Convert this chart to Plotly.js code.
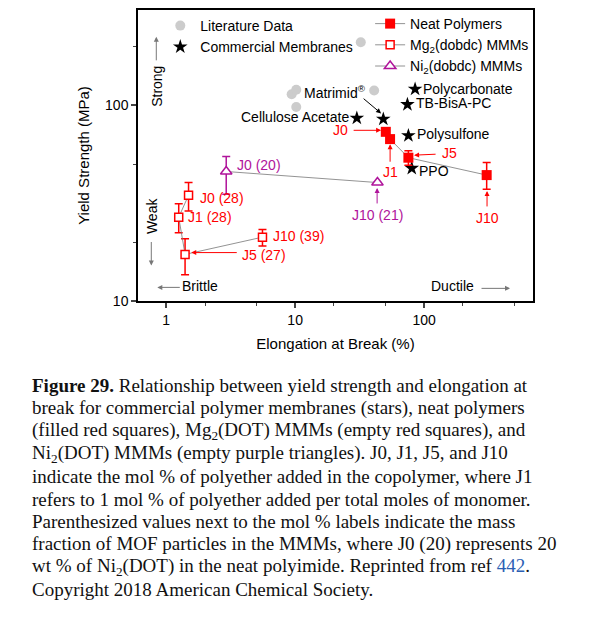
<!DOCTYPE html>
<html>
<head>
<meta charset="utf-8">
<script src="https://cdn.plot.ly/plotly-3.0.1.min.js"></script>
<style>body{margin:0;background:#fff}#chart{width:614px;height:626px}</style>
</head>
<body>
<div id="chart"></div>
<script>
// values
var litX = [9.4, 10.2, 10.2, 41, 32.3];
var litY = [114, 120, 98, 119, 210];

var comNames = ['Cellulose Acetate', 'Matrimid', 'Polycarbonate', 'TB-BisA-PC', 'Polysulfone', 'PPO'];
var comX = [30.1, 48.3, 85.2, 74.3, 75.6, 80.3];
var comY = [86, 85, 121, 101, 70, 47.7];

var neatLabels = ['J0', 'J1', 'J5', 'J10'];
var neatX = [50.5, 54.5, 75.6, 306];
var neatY = [73.2, 67.2, 54, 44];
var neatErrUp = [0, 0, 4.6, 7];
var neatErrDn = [0, 0, 4.6, 6.8];

var mgLabels = ['J0 (28)', 'J1 (28)', 'J5 (27)', 'J10 (39)'];
var mgX = [1.49, 1.25, 1.40, 5.58];
var mgY = [34.7, 26.8, 17.3, 21.2];
var mgErrUp = [5.6, 4.6, 3.5, 2.0];
var mgErrDn = [5.9, 4.5, 3.7, 2.1];

var niLabels = ['J0 (20)', 'J10 (21)'];
var niX = [2.92, 43.5];
var niY = [45.9, 40.3];
var niErrUp = [8.8, 0];
var niErrDn = [10.8, 0];

var RED = '#ff0000', PUR = '#b0149b', GRY = '#777777';

// pixel -> paper helpers (plot area 137.7..533 x 8..300.7)
function X(px) { return (px - 137.7) / 395.3; }
function Y(py) { return 1 - (py - 8) / 292.7; }

var data = [
  {x: litX, y: litY, mode: 'markers', name: 'Literature Data', legend: 'legend',
   marker: {color: '#cccccc', size: 10, symbol: 'circle'}},
  {x: comX, y: comY, mode: 'markers', name: 'Commercial Membranes', legend: 'legend',
   marker: {color: '#000', size: 11, symbol: 'star'}},
  {x: neatX, y: neatY, mode: 'lines+markers', name: 'Neat Polymers', legend: 'legend2',
   line: {color: GRY, width: 0.8}, marker: {color: RED, size: 10, symbol: 'square'},
   error_y: {type: 'data', symmetric: false, array: neatErrUp, arrayminus: neatErrDn, color: RED, thickness: 1.5, width: 4}},
  {x: mgX, y: mgY, mode: 'lines+markers', name: 'Mg<sub>2</sub>(dobdc) MMMs', legend: 'legend2',
   line: {color: GRY, width: 0.8}, marker: {color: '#fff', size: 8, symbol: 'square', line: {color: RED, width: 1.5}},
   error_y: {type: 'data', symmetric: false, array: mgErrUp, arrayminus: mgErrDn, color: RED, thickness: 1.5, width: 4}},
  {x: niX, y: niY, mode: 'lines+markers', name: 'Ni<sub>2</sub>(dobdc) MMMs', legend: 'legend2',
   line: {color: GRY, width: 0.8}, marker: {color: '#fff', size: 10, symbol: 'triangle-up', line: {color: PUR, width: 1.5}},
   error_y: {type: 'data', symmetric: false, array: niErrUp, arrayminus: niErrDn, color: PUR, thickness: 1.5, width: 4}}
];

var ann = [];
function txt(px, py, t, color, xa, extra) {
  var a = {xref: 'paper', yref: 'paper', x: X(px), y: Y(py), text: t, showarrow: false,
    xanchor: xa || 'left', yanchor: 'middle', font: {size: 14, color: color || '#000'}};
  for (var k in extra) a[k] = extra[k];
  ann.push(a);
}
function arrow(x0, y0, x1, y1, color) {
  ann.push({xref: 'paper', yref: 'paper', x: X(x1), y: Y(y1), ax: x0 - x1, ay: y0 - y1, text: '',
    showarrow: true, arrowhead: 2, arrowsize: 1, arrowwidth: 1, arrowcolor: color || '#000'});
}

// neat polymer labels
txt(350, 129, neatLabels[0], RED, 'right'); arrow(352, 129, 381, 129, RED);
txt(390, 171, neatLabels[1], RED, 'center'); arrow(390, 162, 390, 143, RED);
txt(440, 152, neatLabels[2], RED, 'left'); arrow(437, 153, 414, 154, RED);
txt(487, 217, neatLabels[3], RED, 'center'); arrow(487, 207, 487, 190, RED);
// Mg labels
txt(198, 197, mgLabels[0], RED);
txt(186, 216, mgLabels[1], RED);
txt(240, 254, mgLabels[2], RED); arrow(238, 252, 191, 252, RED);
txt(271, 235, mgLabels[3], RED);
// Ni labels
txt(235, 164, niLabels[0], PUR);
txt(377, 214, niLabels[1], PUR, 'center'); arrow(377, 204, 377, 187, PUR);
// commercial labels
txt(351, 116, comNames[0], '#000', 'right');
txt(335, 90, comNames[1] + '<sup>®</sup>', '#000', 'center'); arrow(362, 96, 381, 112, '#000');
txt(421, 87, comNames[2]);
txt(414, 102, comNames[3]);
txt(415, 133, comNames[4]);
txt(417, 170, comNames[5]);
// region labels
txt(200, 286, 'Brittle', '#000', 'center'); arrow(181, 287, 157, 287, GRY);
txt(452, 286, 'Ductile', '#000', 'center'); arrow(480, 288, 510, 288, GRY);
txt(156, 85, 'Strong', '#000', 'center', {textangle: -90}); arrow(156, 60, 156, 35, GRY);
txt(152, 215, 'Weak', '#000', 'center', {textangle: -90}); arrow(151, 240, 151, 265, GRY);

// caption
var caption = [
  '<b>Figure 29.</b> Relationship between yield strength and elongation at',
  'break for commercial polymer membranes (stars), neat polymers',
  '(filled red squares), Mg<sub>2</sub>(DOT) MMMs (empty red squares), and',
  'Ni<sub>2</sub>(DOT) MMMs (empty purple triangles). J0, J1, J5, and J10',
  'indicate the mol % of polyether added in the copolymer, where J1',
  'refers to 1 mol % of polyether added per total moles of monomer.',
  'Parenthesized values next to the mol % labels indicate the mass',
  'fraction of MOF particles in the MMMs, where J0 (20) represents 20',
  'wt % of Ni<sub>2</sub>(DOT) in the neat polyimide. Reprinted from ref <span style="color:#2b5fb4">442</span>.',
  'Copyright 2018 American Chemical Society.'
];
caption.forEach(function (line, i) {
  ann.push({xref: 'paper', yref: 'paper', x: X(30), y: Y(386 + i * 22.8), text: line, showarrow: false,
    xanchor: 'left', yanchor: 'middle', font: {family: 'Liberation Serif, serif', size: 19, color: '#111'}});
});

var axisCommon = {type: 'log', showline: true, linecolor: '#000', linewidth: 1.5, mirror: true,
  ticks: 'outside', ticklen: 5, tickwidth: 1.5, showgrid: false, zeroline: false,
  minor: {ticks: 'outside', ticklen: 3, tickwidth: 1, dtick: 'D2'}, tickfont: {size: 14}};

var layout = {
  width: 614, height: 626,
  margin: {l: 137.7, r: 81, t: 8, b: 325.3},
  font: {family: 'Liberation Sans, Arial, sans-serif', size: 14, color: '#000'},
  paper_bgcolor: '#fff', plot_bgcolor: '#fff',
  xaxis: Object.assign({}, axisCommon, {range: [Math.log10(0.604), Math.log10(700)],
    tickvals: [1, 10, 100], ticktext: ['1', '10', '100'],
    title: {text: 'Elongation at Break (%)', font: {size: 15}, standoff: 12}}),
  yaxis: Object.assign({}, axisCommon, {range: [1, Math.log10(307)],
    tickvals: [10, 100], ticktext: ['10', '100'],
    title: {text: 'Yield Strength (MPa)', font: {size: 15}, standoff: 12}}),
  legend: {x: X(160), y: Y(8), xanchor: 'left', yanchor: 'top', bgcolor: 'rgba(0,0,0,0)',
    font: {size: 14}, tracegroupgap: 0, itemwidth: 30},
  legend2: {x: X(370), y: Y(6), xanchor: 'left', yanchor: 'top', bgcolor: 'rgba(0,0,0,0)',
    font: {size: 14}, tracegroupgap: 0, itemwidth: 30},
  annotations: ann
};

Plotly.newPlot('chart', data, layout, {displayModeBar: false});
</script>
</body>
</html>
